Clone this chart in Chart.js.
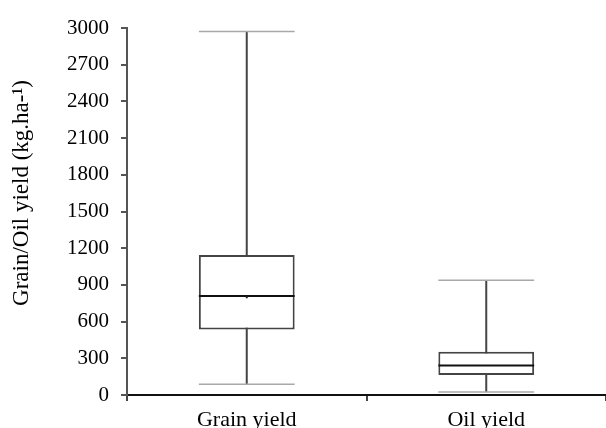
<!DOCTYPE html>
<html>
<head>
<meta charset="utf-8">
<script src="https://cdn.jsdelivr.net/npm/chart.js@4"></script>
<style>
  html, body { margin: 0; padding: 0; background: #fff; }
  #wrap { width: 606px; height: 428px; }
</style>
</head>
<body>
<div id="wrap"><canvas id="boxChart" width="606" height="428"></canvas></div>
<script>
// Dữ liệu box plot
const categories = ['Grain yield', 'Oil yield'];
const minVals = [87, 24];
const q1Vals = [535, 163];
const medianVals = [810, 242];
const q3Vals = [1145, 353];
const maxVals = [2971, 939];
const meanVals = [799, null];
const yTicks = [0, 300, 600, 900, 1200, 1500, 1800, 2100, 2400, 2700, 3000];
const yTitle = 'Grain/Oil yield (kg.ha-¹)';

const serif = "'Liberation Serif', 'Times New Roman', serif";

// Vẽ râu, nắp râu, trung vị và trung bình bằng thang đo của Chart.js
const boxPlugin = {
    id: 'boxParts',
    beforeDatasetsDraw(chart) {
        const ctx = chart.ctx;
        const y = chart.scales.y;
        const meta = chart.getDatasetMeta(0);
        ctx.save();
        meta.data.forEach((bar, i) => {
            const half = bar.width / 2;
            // râu
            ctx.strokeStyle = '#444';
            ctx.lineWidth = 2;
            ctx.beginPath();
            ctx.moveTo(bar.x, y.getPixelForValue(maxVals[i]));
            ctx.lineTo(bar.x, y.getPixelForValue(minVals[i]));
            ctx.stroke();
            // nắp râu
            ctx.strokeStyle = '#a8a8a8';
            ctx.lineWidth = 1.5;
            [maxVals[i], minVals[i]].forEach(v => {
                const py = y.getPixelForValue(v);
                ctx.beginPath();
                ctx.moveTo(bar.x - half, py);
                ctx.lineTo(bar.x + half, py);
                ctx.stroke();
            });
        });
        ctx.restore();
    },
    afterDatasetsDraw(chart) {
        const ctx = chart.ctx;
        const y = chart.scales.y;
        const meta = chart.getDatasetMeta(0);
        ctx.save();
        meta.data.forEach((bar, i) => {
            const half = bar.width / 2;
            const py = y.getPixelForValue(medianVals[i]);
            ctx.strokeStyle = '#111';
            ctx.lineWidth = 2;
            ctx.beginPath();
            ctx.moveTo(bar.x - half, py);
            ctx.lineTo(bar.x + half, py);
            ctx.stroke();
            if (meanVals[i] != null) {
                ctx.fillStyle = '#222';
                ctx.fillRect(bar.x - 1, y.getPixelForValue(meanVals[i]) - 1, 2, 2);
            }
        });
        ctx.restore();
    },
    afterDraw(chart) {
        // tiêu đề trục y, hơi lệch lên như hình gốc
        const ctx = chart.ctx;
        ctx.save();
        ctx.translate(22, 193);
        ctx.rotate(-Math.PI / 2);
        ctx.font = '23px ' + serif;
        ctx.fillStyle = '#000';
        ctx.textAlign = 'center';
        ctx.textBaseline = 'middle';
        ctx.fillText(yTitle, 0, 0);
        ctx.restore();
    }
};

const boxCtx = document.getElementById('boxChart').getContext('2d');

const boxChart = new Chart(boxCtx, {
    type: 'bar',
    data: {
        labels: categories,
        datasets: [{
            label: 'IQR',
            data: q1Vals.map((q1, i) => [q1, q3Vals[i]]),
            backgroundColor: '#ffffff',
            borderColor: '#444',
            borderWidth: 2,
            borderSkipped: false,
            categoryPercentage: 1.0,
            barPercentage: 0.4
        }]
    },
    options: {
        responsive: false,
        animation: false,
        layout: {
            padding: { top: 28, right: 0, left: 0, bottom: 0 }
        },
        plugins: {
            legend: { display: false },
            tooltip: { enabled: false }
        },
        scales: {
            x: {
                offset: true,
                grid: {
                    offset: true,
                    drawOnChartArea: false,
                    drawTicks: true,
                    tickLength: 6,
                    color: '#444',
                    lineWidth: 2
                },
                border: { display: true, color: '#111', width: 2 },
                ticks: {
                    padding: 6,
                    color: '#000',
                    font: { family: serif, size: 22 }
                },
                afterFit(scale) { scale.height = 33; }
            },
            y: {
                min: 0,
                max: 3000,
                afterBuildTicks(scale) {
                    scale.ticks = yTicks.map(v => ({ value: v }));
                },
                grid: {
                    drawOnChartArea: false,
                    drawTicks: true,
                    tickLength: 6,
                    color: '#555',
                    lineWidth: 2
                },
                border: { display: true, color: '#555', width: 2 },
                ticks: {
                    padding: 12,
                    color: '#000',
                    font: { family: serif, size: 21 },
                    callback: v => String(v)
                },
                afterFit(scale) { scale.width = 127; }
            }
        }
    },
    plugins: [boxPlugin]
});
</script>
</body>
</html>
